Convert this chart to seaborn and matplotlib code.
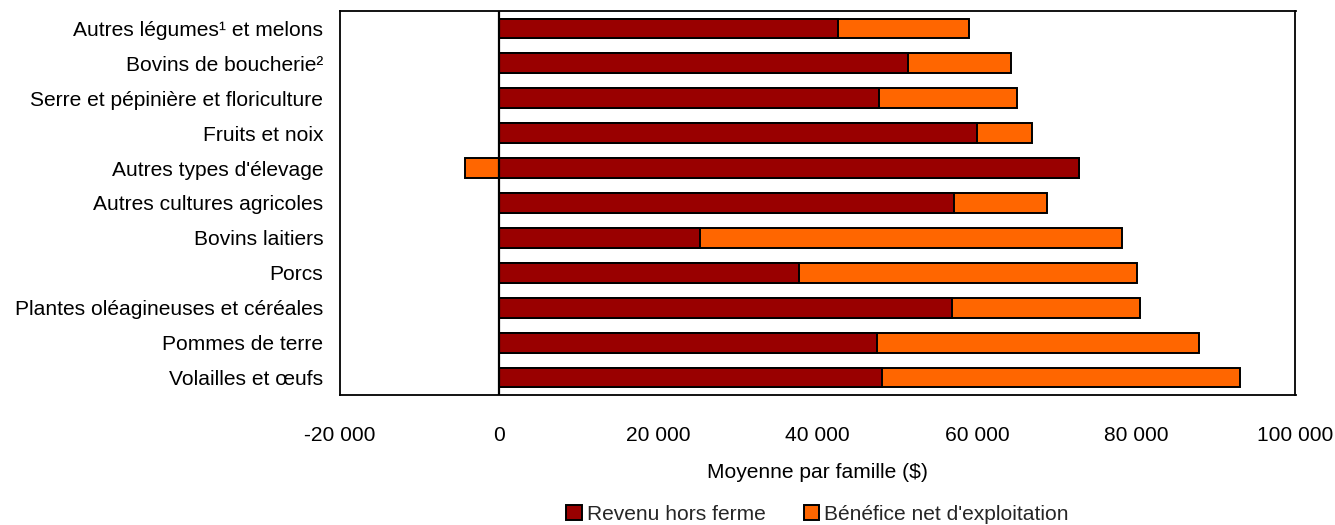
import matplotlib
matplotlib.use("Agg")
import matplotlib.pyplot as plt
from matplotlib.patches import Patch
from matplotlib.ticker import FuncFormatter
import numpy as np
import pandas as pd
import seaborn as sns

categories = [
    "Autres légumes¹ et melons",
    "Bovins de boucherie²",
    "Serre et pépinière et floriculture",
    "Fruits et noix",
    "Autres types d'élevage",
    "Autres cultures agricoles",
    "Bovins laitiers",
    "Porcs",
    "Plantes oléagineuses et céréales",
    "Pommes de terre",
    "Volailles et œufs",
]
revenu_hors_ferme = [42600, 51300, 47700, 60000, 72800, 57100, 25200, 37600, 56900, 47500, 48100]
benefice_net = [16400, 13000, 17300, 6900, -4300, 11700, 53000, 42500, 23600, 40400, 44900]

series_names = ["Revenu hors ferme", "Bénéfice net d'exploitation"]
xticks = [-20000, 0, 20000, 40000, 60000, 80000, 100000]

RED = "#990000"
ORANGE = "#FF6600"

sns.set_style("white")
plt.rcParams["font.family"] = ["Liberation Sans", "DejaVu Sans"]
FS = 15.1

df = pd.DataFrame({"cat": categories, "red": revenu_hors_ferme, "orange": benefice_net})
df["pos_total"] = df["red"] + df["orange"].clip(lower=0)
df["neg"] = df["orange"].where(df["orange"] < 0)

fig = plt.figure(figsize=(13.35, 5.25), dpi=100)
W, H = 1335, 525
ax = fig.add_axes([340 / W, 1 - 395 / H, (1295.5 - 340) / W, (395 - 11) / H])

bw = 0.57
common = dict(orient="h", ax=ax, saturation=1, edgecolor="black", linewidth=1.4, width=bw,
              order=categories)
sns.barplot(data=df, x="pos_total", y="cat", color=ORANGE, **common)
sns.barplot(data=df, x="red", y="cat", color=RED, **common)
sns.barplot(data=df.dropna(subset=["neg"]), x="neg", y="cat", color=ORANGE, **common)

ax.axvline(0, color="black", lw=1.6, zorder=5)
ax.set_xlim(xticks[0], xticks[-1])
ax.set_ylim(len(categories) - 0.5, -0.5)
ax.set_xticks(xticks)
ax.xaxis.set_major_formatter(FuncFormatter(lambda v, p: f"{int(v):,}".replace(",", " ")))
ax.tick_params(axis="x", direction="in", length=6, width=1.2, pad=22, labelsize=FS, colors="black")
ax.tick_params(axis="y", length=0, pad=12, labelsize=FS, colors="black")
for s in ax.spines.values():
    s.set_visible(True)
    s.set_color("black")
    s.set_linewidth(1.3)
ax.set_ylabel("")
ax.set_xlabel("Moyenne par famille ($)", fontsize=FS, labelpad=13, color="black")

handles = [Patch(facecolor=RED, edgecolor="black", linewidth=1.4),
           Patch(facecolor=ORANGE, edgecolor="black", linewidth=1.4)]
fig.legend(handles, series_names, loc="center", bbox_to_anchor=(817.5 / W, 1 - 514.5 / H),
           ncol=2, frameon=False, fontsize=FS, handlelength=0.75, handleheight=0.75,
           handletextpad=0.25, columnspacing=1.8, borderaxespad=0)

fig.savefig("out.png", dpi=100)
